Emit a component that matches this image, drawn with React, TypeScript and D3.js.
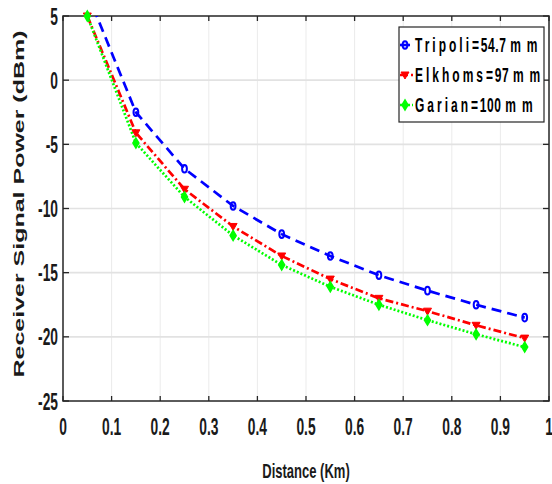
import * as d3 from 'd3'

// values
const distance = [0.05, 0.15, 0.25, 0.35, 0.45, 0.55, 0.65, 0.75, 0.85, 0.95]
const tripoli = [6.8, -2.5, -6.9, -9.8, -12.0, -13.7, -15.2, -16.4, -17.5, -18.5]
const elkhoms = [5.0, -4.1, -8.5, -11.4, -13.7, -15.5, -17.0, -18.0, -19.1, -20.1]
const garian = [5.0, -4.9, -9.1, -12.1, -14.4, -16.1, -17.5, -18.7, -19.8, -20.8]

const seriesNames = ['Tripoli', 'Elkhoms', 'Garian']
const seriesRain = ['54.7', '97', '100']
const xTicks = [0, 0.1, 0.2, 0.3, 0.4, 0.5, 0.6, 0.7, 0.8, 0.9, 1]
const yTicks = [5, 0, -5, -10, -15, -20, -25]
const xTickLabels = ['0', '0.1', '0.2', '0.3', '0.4', '0.5', '0.6', '0.7', '0.8', '0.9', '1']

const W = 552
const H = 484
const left = 63
const right = 549
const top = 16
const bottom = 401
const SX = 0.6 // the original figure is squeezed horizontally
const font = '"Liberation Sans", Arial, sans-serif'

const styles = [
  { color: '#0000ff', dash: '10,6', marker: 'circle' },
  { color: '#ff0000', dash: '8,3,2,3', marker: 'tri' },
  { color: '#00ff00', dash: '2,2', marker: 'diamond' },
]

function Marker({ kind, color, x, y }: { kind: string; color: string; x: number; y: number }) {
  if (kind === 'circle') {
    return <ellipse cx={x} cy={y} rx={2.4} ry={3.8} fill="none" stroke={color} strokeWidth={2} />
  }
  if (kind === 'tri') {
    return (
      <path
        d={`M${x - 4},${y - 3}L${x + 4},${y - 3}L${x},${y + 4}Z`}
        fill={color}
        stroke={color}
        strokeWidth={1}
      />
    )
  }
  return (
    <path
      d={`M${x},${y - 5}L${x + 3},${y}L${x},${y + 5}L${x - 3},${y}Z`}
      fill={color}
      stroke={color}
      strokeWidth={1.5}
    />
  )
}

export default function App() {
  const x = d3.scaleLinear().domain([0, 1]).range([left, right])
  const y = d3.scaleLinear().domain([-25, 5]).range([bottom, top])
  const data = [tripoli, elkhoms, garian]

  const line = d3
    .line<number>()
    .x((_, i) => x(distance[i]))
    .y((d) => y(d))

  return (
    <svg
      width={W}
      height={H}
      style={{ position: 'absolute', left: 0, top: 0, background: '#fff' }}
      fontFamily={font}
    >
      <defs>
        <clipPath id="plot">
          <rect x={left} y={top} width={right - left} height={bottom - top} />
        </clipPath>
      </defs>

      {/* grid */}
      {xTicks.slice(1, -1).map((t) => (
        <line key={'gx' + t} x1={x(t)} x2={x(t)} y1={top} y2={bottom} stroke="#ebebeb" strokeWidth={1} />
      ))}
      {yTicks.slice(1, -1).map((t) => (
        <line key={'gy' + t} x1={left} x2={right} y1={y(t)} y2={y(t)} stroke="#e2e2e2" strokeWidth={1.6} />
      ))}

      {/* axes box and ticks */}
      <rect x={left} y={top} width={right - left} height={bottom - top} fill="none" stroke="#262626" strokeWidth={1.5} />
      {xTicks.map((t) => (
        <g key={'tx' + t}>
          <line x1={x(t)} x2={x(t)} y1={bottom} y2={bottom - 5} stroke="#262626" strokeWidth={1.3} />
          <line x1={x(t)} x2={x(t)} y1={top} y2={top + 5} stroke="#262626" strokeWidth={1.3} />
        </g>
      ))}
      {yTicks.map((t) => (
        <g key={'ty' + t}>
          <line x1={left} x2={left + 6} y1={y(t)} y2={y(t)} stroke="#262626" strokeWidth={1.3} />
          <line x1={right} x2={right - 6} y1={y(t)} y2={y(t)} stroke="#262626" strokeWidth={1.3} />
        </g>
      ))}

      {/* tick labels */}
      {xTicks.map((t, i) => (
        <text
          key={'lx' + t}
          transform={`translate(${x(t)},435) scale(${SX},1)`}
          textAnchor="middle"
          fontSize={23}
          fontWeight="bold"
          fill="#1a1a1a"
        >
          {xTickLabels[i]}
        </text>
      ))}
      {yTicks.map((t) => (
        <text
          key={'ly' + t}
          transform={`translate(58,${y(t) + 8.5}) scale(${SX},1)`}
          textAnchor="end"
          fontSize={23}
          fontWeight="bold"
          fill="#1a1a1a"
        >
          {t}
        </text>
      ))}

      {/* axis titles */}
      <text
        transform={`translate(${(left + right) / 2},478) scale(0.62,1)`}
        textAnchor="middle"
        fontSize={21}
        fontWeight="bold"
        fill="#1a1a1a"
      >
        Distance (Km)
      </text>
      <text
        transform={`translate(24,204) rotate(-90) scale(1,0.62)`}
        textAnchor="middle"
        fontSize={25}
        fontWeight="bold"
        fill="#1a1a1a"
      >
        Receiver Signal Power (dBm)
      </text>

      {/* series */}
      <g clipPath="url(#plot)">
        {data.map((s, k) => (
          <path
            key={'s' + k}
            d={line(s) || ''}
            fill="none"
            stroke={styles[k].color}
            strokeWidth={2.7}
            strokeDasharray={styles[k].dash}
          />
        ))}
      </g>
      {data.map((s, k) =>
        s.map((v, i) =>
          v <= 5 && v >= -25 ? (
            <Marker key={`m${k}-${i}`} kind={styles[k].marker} color={styles[k].color} x={x(distance[i])} y={y(v)} />
          ) : null
        )
      )}

      {/* legend */}
      <rect x={399} y={27} width={145} height={95} fill="#fff" stroke="#262626" strokeWidth={1.2} />
      {seriesNames.map((name, k) => {
        const cy = 45 + k * 30
        return (
          <g key={'lg' + k}>
            <line x1={400} x2={413} y1={cy} y2={cy} stroke={styles[k].color} strokeWidth={2.6} strokeDasharray={styles[k].dash} />
            <Marker kind={styles[k].marker} color={styles[k].color} x={405} y={cy} />
            <text
              transform={`translate(415,${cy + 7}) scale(${SX},1)`}
              fontSize={20}
              fontWeight="bold"
              fill="#000"
            >
              <tspan letterSpacing={5}>{name}</tspan>
              <tspan letterSpacing={3}>=</tspan>
              <tspan letterSpacing={1}>{seriesRain[k]}</tspan>
              <tspan letterSpacing={10} dx={6}>mm</tspan>
            </text>
          </g>
        )
      })}
    </svg>
  )
}
